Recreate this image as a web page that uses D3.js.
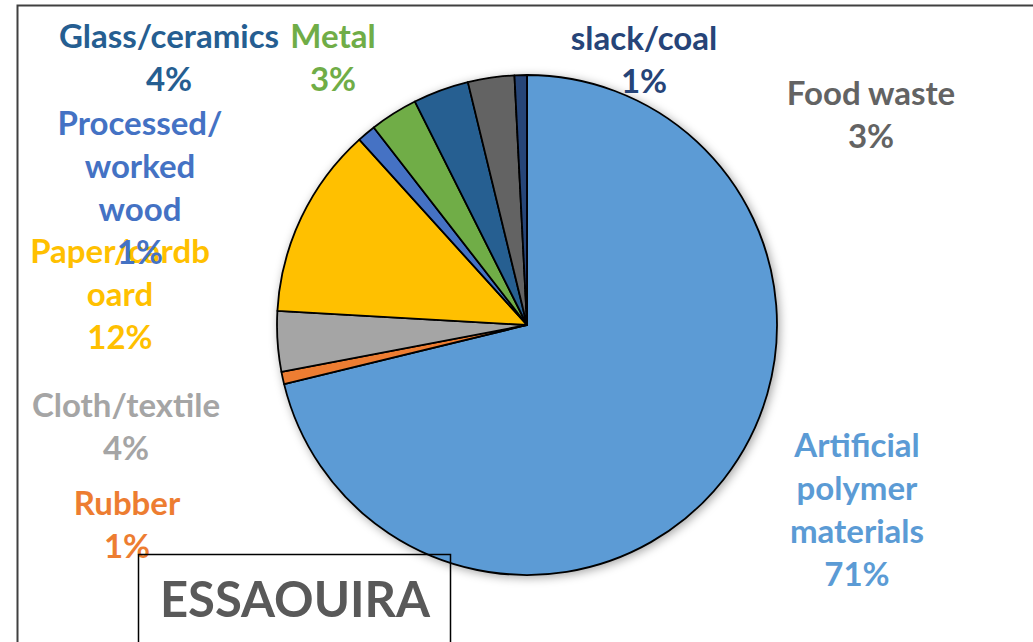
<!DOCTYPE html>
<html>
<head>
<meta charset="utf-8">
<script src="https://cdn.jsdelivr.net/npm/d3@7"></script>
<style>
  body { margin: 0; background: #fff; }
  svg { display: block; font-family: Lato, "Open Sans", sans-serif; font-weight: bold; }
</style>
</head>
<body>
<div id="chart"></div>
<script>
// Waste composition, Essaouira (percent), clockwise from 12 o'clock
const categories = ["Artificial polymer materials", "Rubber", "Cloth/textile", "Paper/cardboard",
  "Processed/worked wood", "Metal", "Glass/ceramics", "Food waste", "slack/coal"];
const values = [71.2, 0.8, 3.9, 12.4, 1.2, 3.1, 3.6, 3.0, 0.8];
const pctLabels = ["71%", "1%", "4%", "12%", "1%", "3%", "4%", "3%", "1%"];
// how the name is wrapped in the original labels
const nameLines = [
  ["Artificial", "polymer", "materials"],
  ["Rubber"],
  ["Cloth/textile"],
  ["Paper/cardb", "oard"],
  ["Processed/", "worked", "wood"],
  ["Metal"],
  ["Glass/ceramics"],
  ["Food waste"],
  ["slack/coal"]
];
const colors = ["#5B9BD5", "#ED7D31", "#A5A5A5", "#FFC000", "#4472C4", "#70AD47", "#255E91", "#636363", "#264478"];
const title = "ESSAOUIRA";

const width = 1033, height = 642;
const cx = 527, cy = 325, radius = 250;
const lineH = 43;

// manual label anchors (centre x, first baseline y), as placed in the original
const labelAnchor = [
  [857, 457], [127, 515], [126, 417], [120, 263], [140, 135],
  [333, 48], [169, 48], [871, 105], [644, 50]
];

const svg = d3.select("#chart").append("svg")
    .attr("width", width)
    .attr("height", height);

const defs = svg.append("defs");
const shadow = defs.append("filter").attr("id", "shadow")
    .attr("x", "-10%").attr("y", "-10%").attr("width", "120%").attr("height", "120%");
shadow.append("feDropShadow")
    .attr("dx", 2).attr("dy", 2).attr("stdDeviation", 5)
    .attr("flood-color", "#000").attr("flood-opacity", 0.35);

// chart area border (left and top visible)
svg.append("rect")
    .attr("x", 17.5).attr("y", 5.5)
    .attr("width", width + 20).attr("height", height + 20)
    .attr("fill", "none")
    .attr("stroke", "#404040")
    .attr("stroke-width", 2);

const pie = d3.pie().sort(null).value(d => d)(values);
const arc = d3.arc().innerRadius(0).outerRadius(radius);

const pieG = svg.append("g")
    .attr("transform", `translate(${cx},${cy})`)
    .attr("filter", "url(#shadow)");

pieG.selectAll("path")
    .data(pie)
    .join("path")
    .attr("d", arc)
    .attr("fill", (d, i) => colors[i])
    .attr("stroke", "#000")
    .attr("stroke-width", 1.8)
    .attr("stroke-linejoin", "round");

// data labels
const labels = svg.append("g").selectAll("text")
    .data(categories)
    .join("text")
    .attr("text-anchor", "middle")
    .attr("font-size", 33)
    .attr("fill", (d, i) => colors[i]);

labels.each(function(d, i) {
    const t = d3.select(this);
    const lines = nameLines[i].concat([pctLabels[i]]);
    lines.forEach((s, j) => {
        t.append("tspan")
            .attr("x", labelAnchor[i][0])
            .attr("y", labelAnchor[i][1] + j * lineH)
            .text(s);
    });
});

// title box
svg.append("rect")
    .attr("x", 138.5).attr("y", 554.5)
    .attr("width", 312).attr("height", 120)
    .attr("fill", "none")
    .attr("stroke", "#000")
    .attr("stroke-width", 1.5);

svg.append("text")
    .attr("x", 295).attr("y", 617)
    .attr("text-anchor", "middle")
    .attr("font-size", 49)
    .attr("fill", "#595959")
    .text(title);
</script>
</body>
</html>
